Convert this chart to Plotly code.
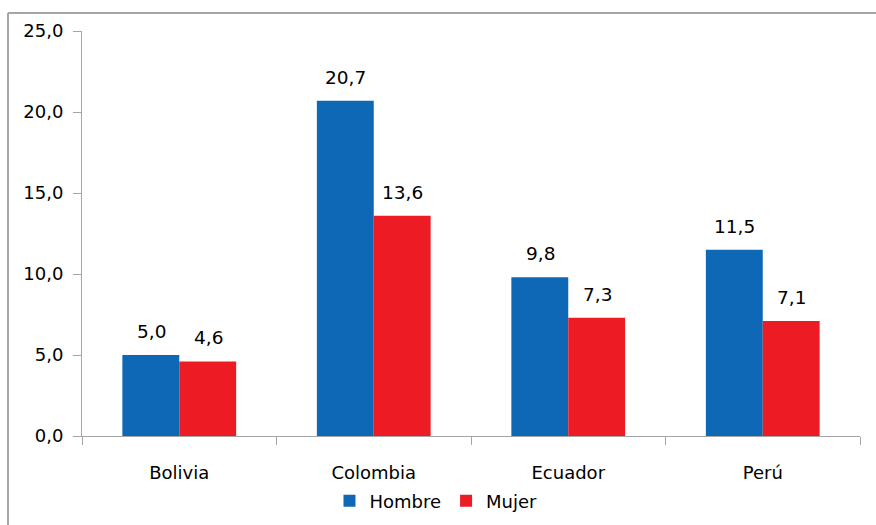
import plotly.graph_objects as go

categories = ["Bolivia", "Colombia", "Ecuador", "Perú"]
hombre = [5.0, 20.7, 9.8, 11.5]
mujer = [4.6, 13.6, 7.3, 7.1]
y_ticks = [0, 5, 10, 15, 20, 25]
y_tick_labels = ["0,0", "5,0", "10,0", "15,0", "20,0", "25,0"]

BLUE = "#0E68B5"
RED = "#ED1C24"
FONT = "DejaVu Sans"

def fmt(v):
    return f"{v:.1f}".replace(".", ",")

fig = go.Figure()
fig.add_trace(go.Bar(name="Hombre", x=categories, y=hombre, marker_color=BLUE,
                     marker_line_width=0))
fig.add_trace(go.Bar(name="Mujer", x=categories, y=mujer, marker_color=RED,
                     marker_line_width=0))

annotations = []
for c, h, m in zip(categories, hombre, mujer):
    annotations.append(dict(x=c, y=h, text=fmt(h), showarrow=False, xshift=-28,
                            yanchor="bottom", yshift=11,
                            font=dict(family=FONT, size=18.5, color="#000")))
    annotations.append(dict(x=c, y=m, text=fmt(m), showarrow=False, xshift=29,
                            yanchor="bottom", yshift=11,
                            font=dict(family=FONT, size=18.5, color="#000")))

W, H = 876, 525
l, r, t, b = 82, 16, 31, 89
pw, ph = W - l - r, H - t - b
fx = (8 - l) / pw
fy = 1 + (t - 13) / ph

fig.update_layout(
    width=W, height=H,
    margin=dict(l=l, r=r, t=t, b=b, autoexpand=False),
    plot_bgcolor="white", paper_bgcolor="white",
    barmode="group", bargap=0.415, bargroupgap=0,
    font=dict(family=FONT, size=18, color="#000"),
    showlegend=True,
    legend=dict(orientation="h", x=0.455, xanchor="center",
                yref="container", y=(H - 501) / H, yanchor="middle",
                font=dict(family=FONT, size=18), traceorder="normal",
                itemsizing="constant"),
    xaxis=dict(showline=True, linecolor="#A6A6A6", linewidth=1, ticks="outside",
               tickson="boundaries", ticklen=8, tickcolor="#A6A6A6",
               showgrid=False, tickfont=dict(family=FONT, size=18),
               ticklabelstandoff=20),
    yaxis=dict(range=[0, 25], tickvals=y_ticks, ticktext=y_tick_labels,
               showline=True, linecolor="#A6A6A6", linewidth=1, ticks="outside",
               ticklen=8, tickcolor="#A6A6A6", showgrid=False, zeroline=False,
               tickfont=dict(family=FONT, size=18), ticklabelstandoff=6),
    annotations=annotations,
    shapes=[
        dict(type="line", xref="paper", yref="paper", x0=fx, x1=1.5, y0=fy, y1=fy,
             line=dict(color="#A6A6A6", width=2)),
        dict(type="line", xref="paper", yref="paper", x0=fx, x1=fx, y0=-0.6, y1=fy,
             line=dict(color="#A6A6A6", width=2)),
    ],
)

fig.write_html("out.html")
